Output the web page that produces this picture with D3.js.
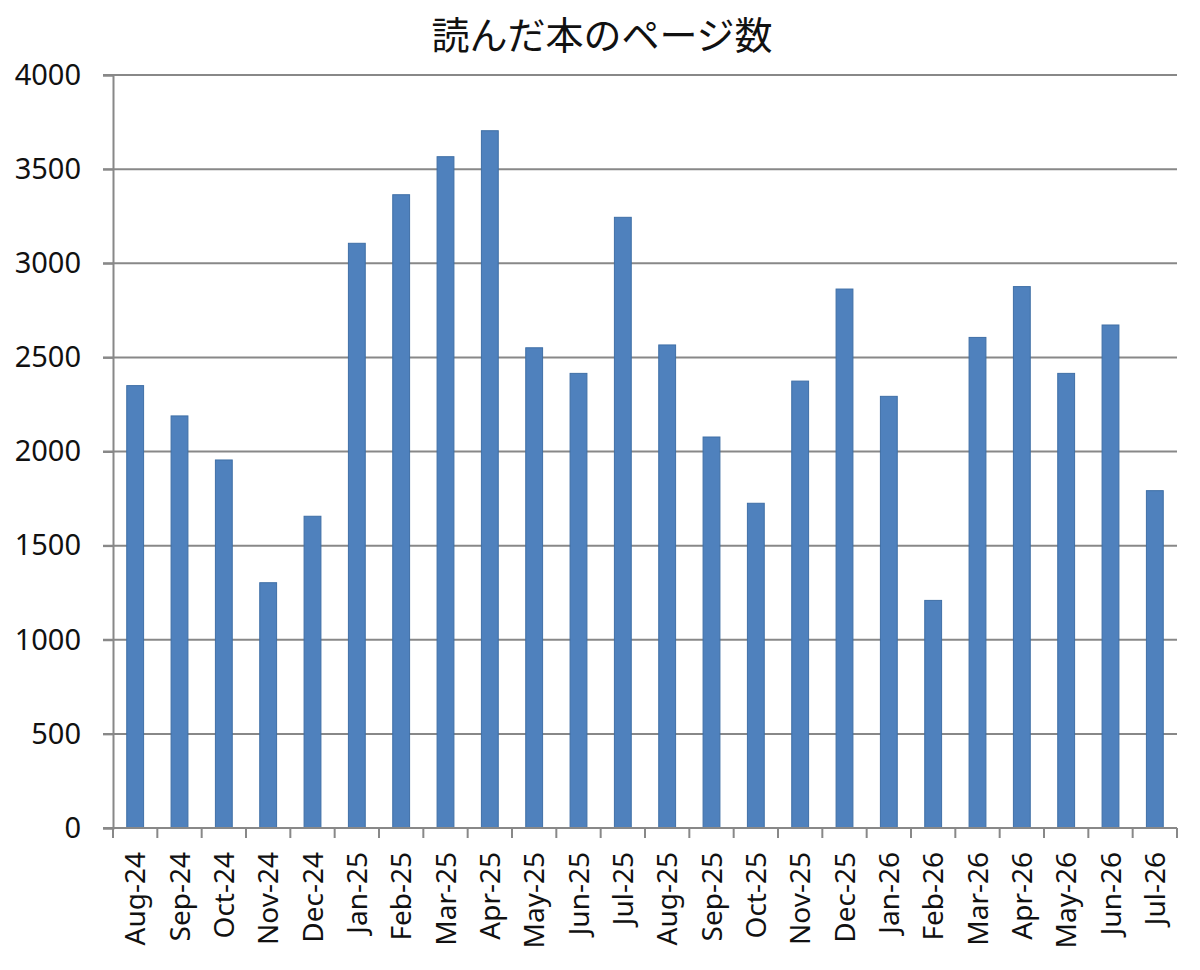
<!DOCTYPE html>
<html><head><meta charset="utf-8">
<script src="https://cdn.jsdelivr.net/npm/d3@7"></script>
<style>
html,body{margin:0;padding:0;background:#fff;}
</style>
</head><body>
<svg id="chart" width="1200" height="970"></svg>
<script>
const title = "読んだ本のページ数";
const months = ["Aug-24","Sep-24","Oct-24","Nov-24","Dec-24","Jan-25","Feb-25","Mar-25","Apr-25","May-25","Jun-25","Jul-25","Aug-25","Sep-25","Oct-25","Nov-25","Dec-25","Jan-26","Feb-26","Mar-26","Apr-26","May-26","Jun-26","Jul-26"];
const pages = [2350,2189,1955,1303,1656,3106,3364,3566,3704,2551,2415,3244,2566,2077,1725,2374,2863,2293,1209,2606,2876,2415,2672,1792];
const yTicks = [0,500,1000,1500,2000,2500,3000,3500,4000];

const svg = d3.select("#chart");
const m = {left:113, right:1177, top:75, bottom:828};
const x = d3.scaleBand().domain(months).range([m.left, m.right]).paddingInner(0.62).paddingOuter(0.31);
const xb = d3.scaleBand().domain(months).range([m.left, m.right]);
const y = d3.scaleLinear().domain([0,4000]).range([m.bottom, m.top]);

// gridlines
svg.append("g").selectAll("line").data(yTicks.filter(d=>d>0)).join("line")
  .attr("x1", m.left-10).attr("x2", m.right)
  .attr("y1", d=>y(d)).attr("y2", d=>y(d))
  .attr("stroke","#888").attr("stroke-width",2);

// bars
svg.append("g").selectAll("rect").data(pages).join("rect")
  .attr("x",(d,i)=>x(months[i]))
  .attr("width", x.bandwidth())
  .attr("y", d=>y(d))
  .attr("height", d=>y(0)-y(d))
  .attr("fill","#4F81BD")
  .attr("stroke","#3F6FA6").attr("stroke-width",1);

// y axis
const yAxis = d3.axisLeft(y).tickValues(yTicks).tickSize(10).tickPadding(22).tickFormat(d3.format("d"));
const gy = svg.append("g").attr("transform",`translate(${m.left},0)`).call(yAxis);
gy.select(".domain").attr("stroke","#888").attr("stroke-width",2);
gy.selectAll(".tick line").attr("stroke","#888").attr("stroke-width",2);
gy.selectAll(".tick text").attr("font-family","'Noto Sans', sans-serif").attr("font-size",29).attr("fill","#111");

// x axis line and ticks at band boundaries
svg.append("line").attr("x1",m.left-10).attr("x2",m.right).attr("y1",m.bottom).attr("y2",m.bottom)
  .attr("stroke","#888").attr("stroke-width",2);
const bounds = months.map(d=>xb(d)).concat([m.right]);
svg.append("g").selectAll("line").data(bounds).join("line")
  .attr("x1",d=>d).attr("x2",d=>d).attr("y1",m.bottom).attr("y2",m.bottom+10)
  .attr("stroke","#888").attr("stroke-width",2);

// x labels
svg.append("g").selectAll("text").data(months).join("text")
  .attr("transform", d=>`translate(${xb(d)+xb.bandwidth()/2+10},${m.bottom+24}) rotate(-90)`)
  .attr("text-anchor","end")
  .attr("font-family","'Noto Sans', sans-serif").attr("font-size",28).attr("fill","#111")
  .text(d=>d);

// title
svg.append("text").attr("x",602).attr("y",49).attr("text-anchor","middle")
  .attr("font-family","'Noto Sans CJK JP', sans-serif").attr("font-size",38).attr("fill","#111")
  .text(title);
</script>
</body></html>
